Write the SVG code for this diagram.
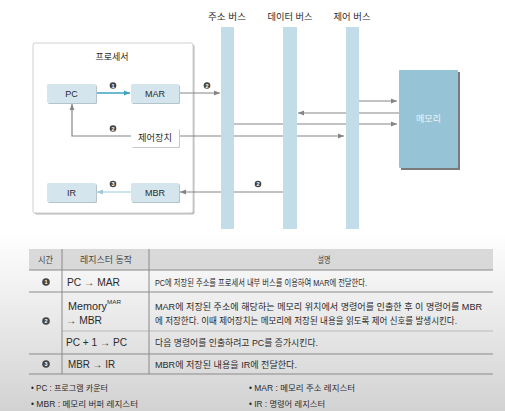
<svg xmlns="http://www.w3.org/2000/svg" width="505" height="411" viewBox="0 0 505 411">
<style>
text{font-family:"Liberation Sans","Noto Sans CJK KR",sans-serif;fill:#2a2a2a}
.lbl{font-size:9px;text-anchor:middle}
.reg{fill:#d5e5ee}
.sh{fill:#b5c3ca}
.bus{fill:#c3dde8}
.ln{stroke:#858585;stroke-width:1.2;fill:none}
.tb{font-size:10px}
.td{font-size:9px}
.hd{font-size:9px;text-anchor:middle;fill:#444}
.num{fill:#444}
.nt{font-size:5.5px;fill:#fff;text-anchor:middle;font-weight:bold}
.tl{stroke:#8a8a8a;stroke-width:1}
.tl2{stroke:#b0b0b0;stroke-width:0.8}
.fn{font-size:8.5px}
</style>
<defs>
<linearGradient id="bg" x1="0" y1="0" x2="0" y2="1">
<stop offset="0" stop-color="#ffffff"/>
<stop offset="1" stop-color="#d2d2d2"/>
</linearGradient>
<marker id="ag" viewBox="0 0 6 6" refX="6" refY="3" markerWidth="6" markerHeight="6" markerUnits="userSpaceOnUse" orient="auto"><path d="M0,0.6 L6,3 L0,5.4z" fill="#858585"/></marker>
<marker id="at" viewBox="0 0 6 6" refX="6" refY="3" markerWidth="6" markerHeight="6" markerUnits="userSpaceOnUse" orient="auto"><path d="M0,0.6 L6,3 L0,5.4z" fill="#3aa3bd"/></marker>
<marker id="ab" viewBox="0 0 6 6" refX="6" refY="3" markerWidth="6" markerHeight="6" markerUnits="userSpaceOnUse" orient="auto"><path d="M0,0.6 L6,3 L0,5.4z" fill="#9cc9dc"/></marker>
</defs>
<rect width="505" height="411" fill="#fff"/>
<rect y="232" width="505" height="179" fill="url(#bg)"/>

<g id="processor">
<rect x="34.5" y="44.5" width="160" height="170" rx="2" fill="#b8b8b8"/>
<rect x="33" y="43" width="160" height="170" rx="2" fill="#fff" stroke="#d0d0d0"/>
<text class="lbl" x="112" y="60">프로세서</text>
</g>

<g id="connectors">
<line x1="96" y1="93" x2="130" y2="93" stroke="#3aa3bd" stroke-width="1.3" marker-end="url(#at)"/>
<line class="ln" x1="179" y1="93" x2="220" y2="93" marker-end="url(#ag)"/>
<polyline class="ln" points="131,136 72,136 72,104" marker-end="url(#ag)"/>
<line class="ln" x1="179" y1="136" x2="344" y2="136" marker-end="url(#ag)"/>
<line class="ln" x1="234" y1="124" x2="397" y2="124" marker-end="url(#ag)"/>
<line class="ln" x1="399" y1="113" x2="298" y2="113" marker-end="url(#ag)"/>
<line class="ln" x1="359" y1="101" x2="397" y2="101" marker-end="url(#ag)"/>
<line class="ln" x1="283" y1="192" x2="180" y2="192" marker-end="url(#ag)"/>
<line x1="131" y1="192" x2="97" y2="192" stroke="#9cc9dc" stroke-width="1.2" marker-end="url(#ab)"/>
<circle class="num" cx="113" cy="85.5" r="3.3"/><text class="nt" x="113" y="87.5">1</text>
<circle class="num" cx="207" cy="85.5" r="3.3"/><text class="nt" x="207" y="87.5">2</text>
<circle class="num" cx="113" cy="128.5" r="3.3"/><text class="nt" x="113" y="130.5">2</text>
<circle class="num" cx="113" cy="184" r="3.3"/><text class="nt" x="113" y="186">3</text>
<circle class="num" cx="258" cy="184" r="3.3"/><text class="nt" x="258" y="186">2</text>
</g>

<g id="address-bus">
<rect class="bus" x="221" y="27" width="13" height="202"/>
<text class="lbl" x="227" y="20" textLength="38" lengthAdjust="spacingAndGlyphs">주소 버스</text>
</g>
<g id="data-bus">
<rect class="bus" x="283" y="27" width="14" height="202"/>
<text class="lbl" x="290" y="20" textLength="45" lengthAdjust="spacingAndGlyphs">데이터 버스</text>
</g>
<g id="control-bus">
<rect class="bus" x="346" y="27" width="13" height="202"/>
<text class="lbl" x="352" y="20" textLength="37" lengthAdjust="spacingAndGlyphs">제어 버스</text>
</g>

<g id="memory">
<rect x="401" y="72" width="59" height="98" fill="#7a7a7a"/>
<rect x="399" y="70" width="59" height="98" rx="1" fill="#97c3d7"/>
<text class="lbl" x="428.5" y="122" style="fill:#eef6fa">메모리</text>
</g>

<g id="pc">
<rect class="sh" x="48" y="85" width="49" height="19" rx="1.5"/>
<rect class="reg" x="47" y="84" width="49" height="19" rx="1.5"/>
<text class="lbl" x="71.5" y="96.5">PC</text>
</g>
<g id="mar">
<rect class="sh" x="132" y="85" width="48" height="19" rx="1.5"/>
<rect class="reg" x="131" y="84" width="48" height="19" rx="1.5"/>
<text class="lbl" x="155" y="96.5">MAR</text>
</g>
<g id="control-unit">
<rect x="132" y="129" width="48" height="19" rx="1.5" fill="#c8c8c8"/>
<rect x="131" y="128" width="48" height="19" rx="1.5" fill="#fff"/>
<text class="lbl" x="155" y="140.5" textLength="34" lengthAdjust="spacingAndGlyphs">제어장치</text>
</g>
<g id="ir">
<rect class="sh" x="48" y="184" width="49" height="19" rx="1.5"/>
<rect class="reg" x="47" y="183" width="49" height="19" rx="1.5"/>
<text class="lbl" x="71.5" y="195.5">IR</text>
</g>
<g id="mbr">
<rect class="sh" x="132" y="184" width="48" height="19" rx="1.5"/>
<rect class="reg" x="131" y="183" width="48" height="19" rx="1.5"/>
<text class="lbl" x="155" y="195.5">MBR</text>
</g>

<g id="table">
<rect x="29" y="249" width="464" height="21" fill="#d9d9d9"/>
<line class="tl" x1="29" y1="270" x2="493" y2="270"/>
<line class="tl" x1="29" y1="292" x2="493" y2="292"/>
<line class="tl2" x1="62" y1="331" x2="493" y2="331"/>
<line class="tl" x1="29" y1="354" x2="493" y2="354"/>
<line class="tl" x1="29" y1="374" x2="493" y2="374"/>
<line class="tl" x1="62" y1="249" x2="62" y2="374"/>
<line class="tl" x1="149" y1="249" x2="149" y2="374"/>
<text class="hd" x="45.5" y="263" textLength="15" lengthAdjust="spacingAndGlyphs">시간</text>
<text class="hd" x="106" y="263" textLength="52" lengthAdjust="spacingAndGlyphs">레지스터 동작</text>
<text class="hd" x="324" y="263" textLength="13" lengthAdjust="spacingAndGlyphs">설명</text>
<circle class="num" cx="46" cy="282" r="3.8"/><text class="nt" x="46" y="284">1</text>
<circle class="num" cx="46" cy="321" r="3.8"/><text class="nt" x="46" y="323">2</text>
<circle class="num" cx="46" cy="364" r="3.8"/><text class="nt" x="46" y="366">3</text>
<text class="tb" x="67" y="285.5" textLength="53" lengthAdjust="spacingAndGlyphs">PC → MAR</text>
<text class="tb" x="68" y="309.5" textLength="39" lengthAdjust="spacingAndGlyphs">Memory</text>
<text x="107" y="304" style="font-size:6px" textLength="14" lengthAdjust="spacingAndGlyphs">MAR</text>
<text class="tb" x="66" y="323.5" textLength="36" lengthAdjust="spacingAndGlyphs">→ MBR</text>
<text class="tb" x="66" y="345.5" textLength="61" lengthAdjust="spacingAndGlyphs">PC + 1 → PC</text>
<text class="tb" x="68" y="367.5" textLength="47" lengthAdjust="spacingAndGlyphs">MBR → IR</text>
<text class="td" x="155" y="285.5" textLength="212" lengthAdjust="spacingAndGlyphs">PC에 저장된 주소를 프로세서 내부 버스를 이용하여 MAR에 전달한다.</text>
<text class="td" x="155" y="309.5" textLength="327" lengthAdjust="spacingAndGlyphs">MAR에 저장된 주소에 해당하는 메모리 위치에서 명령어를 인출한 후 이 명령어를 MBR</text>
<text class="td" x="155" y="323.5" textLength="302" lengthAdjust="spacingAndGlyphs">에 저장한다. 이때 제어장치는 메모리에 저장된 내용을 읽도록 제어 신호를 발생시킨다.</text>
<text class="td" x="155" y="345.5" textLength="163" lengthAdjust="spacingAndGlyphs">다음 명령어를 인출하려고 PC를 증가시킨다.</text>
<text class="td" x="155" y="367.5" textLength="142" lengthAdjust="spacingAndGlyphs">MBR에 저장된 내용을 IR에 전달한다.</text>
</g>

<g id="notes">
<text class="fn" x="31" y="391" textLength="77" lengthAdjust="spacingAndGlyphs">• PC : 프로그램 카운터</text>
<text class="fn" x="31" y="407" textLength="107" lengthAdjust="spacingAndGlyphs">• MBR : 메모리 버퍼 레지스터</text>
<text class="fn" x="249" y="391" textLength="106" lengthAdjust="spacingAndGlyphs">• MAR : 메모리 주소 레지스터</text>
<text class="fn" x="249" y="407" textLength="76" lengthAdjust="spacingAndGlyphs">• IR : 명령어 레지스터</text>
</g>
</svg>
